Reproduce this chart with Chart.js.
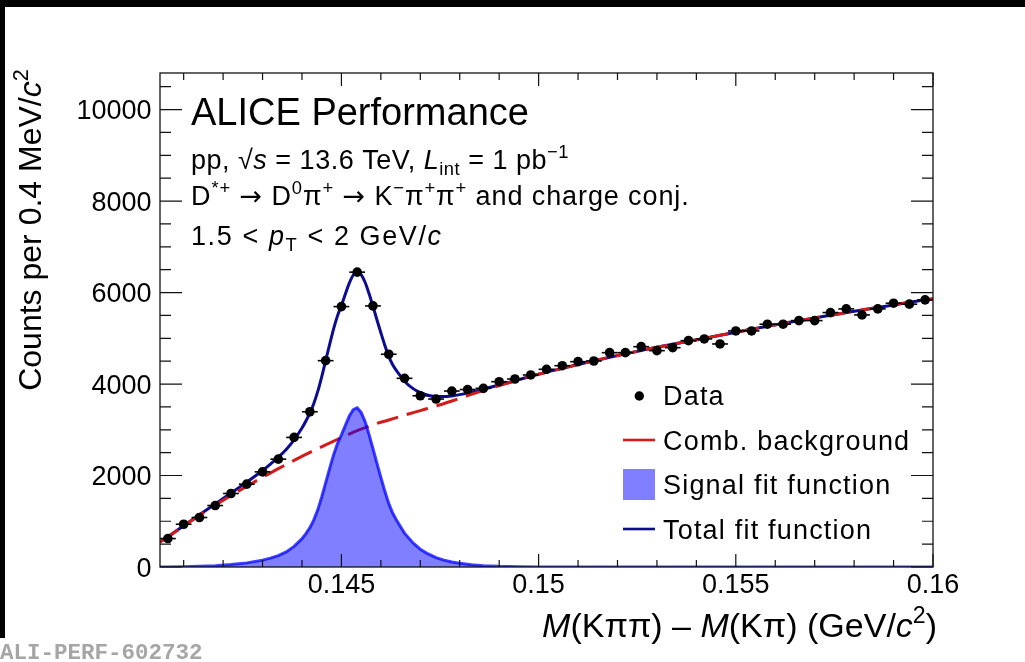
<!DOCTYPE html>
<html>
<head>
<meta charset="utf-8">
<script src="https://cdn.jsdelivr.net/npm/chart.js@4/dist/chart.umd.min.js"></script>
<style>
  html, body { margin: 0; padding: 0; background: #fff; }
  canvas { display: block; }
</style>
</head>
<body>
<canvas id="c" width="1025" height="662" style="width:1025px;height:662px"></canvas>
<script>
// ---- measured spectrum: bin centres of 0.4 MeV/c^2 bins and counts ----
const binCenters = [0.1406, 0.1410, 0.1414, 0.1418, 0.1422, 0.1426, 0.1430, 0.1434, 0.1438, 0.1442,
                    0.1446, 0.1450, 0.1454, 0.1458, 0.1462, 0.1466, 0.1470, 0.1474, 0.1478, 0.1482,
                    0.1486, 0.1490, 0.1494, 0.1498, 0.1502, 0.1506, 0.1510, 0.1514, 0.1518, 0.1522,
                    0.1526, 0.1530, 0.1534, 0.1538, 0.1542, 0.1546, 0.1550, 0.1554, 0.1558, 0.1562,
                    0.1566, 0.1570, 0.1574, 0.1578, 0.1582, 0.1586, 0.1590, 0.1594, 0.1598];
const counts = [622, 935, 1082, 1344, 1607, 1811, 2080, 2358, 2833, 3394,
                4511, 5693, 6446, 5708, 4651, 4125, 3744, 3672, 3847, 3880,
                3906, 4051, 4110, 4198, 4322, 4401, 4489, 4504, 4686, 4686,
                4817, 4730, 4795, 4949, 4986, 4876, 5161, 5161, 5308, 5308,
                5387, 5387, 5562, 5643, 5511, 5643, 5767, 5746, 5840];
const binHalfWidth = 0.0002;

// ---- combinatorial background fit ----
const bkgMass = [0.1404, 0.1406, 0.1410, 0.1414, 0.1418, 0.1422, 0.1426, 0.1430, 0.1434, 0.1438,
                 0.1442, 0.1446, 0.1450, 0.1454, 0.1458, 0.1462, 0.1466, 0.1470, 0.1474, 0.1478,
                 0.1482, 0.1486, 0.1490, 0.1494, 0.1498, 0.1502, 0.1506, 0.1510, 0.1514, 0.1518,
                 0.1522, 0.1526, 0.1530, 0.1534, 0.1538, 0.1542, 0.1546, 0.1550, 0.1554, 0.1558,
                 0.1562, 0.1566, 0.1570, 0.1574, 0.1578, 0.1582, 0.1586, 0.1590, 0.1594, 0.1598, 0.1600];
const bkgCounts = [545, 659, 898, 1128, 1349, 1561, 1765, 1960, 2150, 2330,
                   2505, 2670, 2830, 2982, 3110, 3215, 3320, 3420, 3520, 3630,
                   3745, 3860, 3965, 4065, 4170, 4258, 4343, 4426, 4507, 4585,
                   4660, 4733, 4804, 4870, 4935, 4998, 5065, 5132, 5198, 5262,
                   5325, 5385, 5445, 5505, 5562, 5620, 5675, 5730, 5785, 5840, 5865];

// ---- signal fit ----
const sigMass = [0.1404, 0.1406, 0.1410, 0.1414, 0.1418, 0.1422, 0.1426, 0.1430, 0.1432, 0.1434,
                 0.1436, 0.1438, 0.1440, 0.1441, 0.1442, 0.1443, 0.1444, 0.1445, 0.1446, 0.1447,
                 0.1448, 0.1449, 0.1450, 0.1451, 0.1452, 0.1453, 0.1454, 0.1455, 0.1456, 0.1457,
                 0.1458, 0.1459, 0.1460, 0.1461, 0.1462, 0.1463, 0.1464, 0.1465, 0.1466, 0.1468,
                 0.1470, 0.1472, 0.1474, 0.1476, 0.1478, 0.1480, 0.1483, 0.1486, 0.1490, 0.1495,
                 0.1500, 0.1505, 0.1600];
const sigCounts = [0, 2, 5, 15, 30, 55, 90, 150, 195, 250,
                   330, 450, 620, 730, 860, 1030, 1250, 1530, 1840, 2150,
                   2450, 2700, 2890, 3100, 3300, 3440, 3480, 3380, 3180, 2900,
                   2590, 2270, 1960, 1660, 1390, 1180, 1020, 880, 740, 540,
                   390, 285, 205, 150, 110, 80, 50, 30, 15, 6,
                   2, 0, 0];

// ---- total fit ----
const totMass = [0.1404, 0.1406, 0.1410, 0.1414, 0.1418, 0.1422, 0.1426, 0.1430, 0.1432, 0.1434,
                 0.1436, 0.1438, 0.1440, 0.1441, 0.1442, 0.1443, 0.1444, 0.1445, 0.1446, 0.1447,
                 0.1448, 0.1449, 0.1450, 0.1451, 0.1452, 0.1453, 0.1454, 0.1455, 0.1456, 0.1457,
                 0.1458, 0.1459, 0.1460, 0.1461, 0.1462, 0.1463, 0.1464, 0.1465, 0.1466, 0.1468,
                 0.1470, 0.1472, 0.1474, 0.1476, 0.1478, 0.1480, 0.1483, 0.1486, 0.1490, 0.1495,
                 0.1500, 0.1506, 0.1510, 0.1514, 0.1518, 0.1522, 0.1526, 0.1530, 0.1534, 0.1538,
                 0.1542, 0.1546, 0.1550, 0.1554, 0.1558, 0.1562, 0.1566, 0.1570, 0.1574, 0.1578,
                 0.1582, 0.1586, 0.1590, 0.1594, 0.1598, 0.1600];
const totCounts = [545, 661, 903, 1143, 1379, 1616, 1855, 2110, 2250, 2400,
                   2570, 2780, 3038, 3191, 3365, 3576, 3838, 4159, 4510, 4860,
                   5200, 5490, 5720, 5968, 6206, 6384, 6462, 6394, 6226, 5978,
                   5700, 5406, 5122, 4849, 4605, 4421, 4287, 4174, 4060, 3910,
                   3810, 3755, 3725, 3725, 3740, 3768, 3824, 3890, 3980, 4097,
                   4216, 4343, 4426, 4507, 4585, 4660, 4733, 4804, 4870, 4935,
                   4998, 5065, 5132, 5198, 5262, 5325, 5385, 5445, 5505, 5562,
                   5620, 5675, 5730, 5785, 5840, 5865];

// ---- axis ticks ----
const xRange = [0.1404, 0.16];
const yRange = [0, 10800];
const xMajorTicks = [0.145, 0.15, 0.155, 0.16];
const xTickLabels = ['0.145', '0.15', '0.155', '0.16'];
const xMinorTicks = [0.141, 0.142, 0.143, 0.144, 0.146, 0.147, 0.148, 0.149,
                     0.151, 0.152, 0.153, 0.154, 0.156, 0.157, 0.158, 0.159];
const yMajorTicks = [0, 2000, 4000, 6000, 8000, 10000];
const yTickLabels = ['0', '2000', '4000', '6000', '8000', '10000'];
const yMinorTicks = [500, 1000, 1500, 2500, 3000, 3500, 4500, 5000, 5500,
                     6500, 7000, 7500, 8500, 9000, 9500, 10500];

const legendLabels = ['Data', 'Comb. background', 'Signal fit function', 'Total fit function'];

const COL_TOTAL = '#0c0c8e';
const COL_BKG = '#d51a1a';
const COL_SIG_LINE = 'rgba(0,0,255,0.75)';
const COL_SIG_FILL = 'rgba(0,0,255,0.5)';

const FONT = '"Liberation Sans", Arial, Helvetica, sans-serif';
const ARROW_FONT = '"DejaVu Sans", sans-serif';
function fnt(size, italic, family) { return (italic ? 'italic ' : '') + size + 'px ' + (family || FONT); }

// rich text: parts = [{t, i (italic), v (1 sup, -1 sub), f (font family)}]
function segsOf(parts, size) {
  return parts.map(p => {
    const s = p.v ? size * 0.68 : size;
    return { t: p.t, font: fnt(s, p.i, p.f), dy: p.v === 1 ? -0.42 * size : (p.v === -1 ? 0.22 * size : 0) };
  });
}
function richWidth(ctx, segs) {
  let w = 0;
  segs.forEach(s => { ctx.font = s.font; w += ctx.measureText(s.t).width; });
  return w;
}
function drawRich(ctx, x, y, parts, size, align, spacing) {
  ctx.save();
  ctx.letterSpacing = (spacing || 0) + 'px';
  const segs = segsOf(parts, size);
  let cx = x;
  const w = richWidth(ctx, segs);
  if (align === 'right') cx -= w;
  else if (align === 'center') cx -= w / 2;
  ctx.textAlign = 'left';
  ctx.textBaseline = 'alphabetic';
  segs.forEach(s => { ctx.font = s.font; ctx.fillText(s.t, cx, y + s.dy); cx += ctx.measureText(s.t).width; });
  ctx.restore();
}

const titleX = [{t: 'M', i: true}, {t: '(K\u03C0\u03C0) \u2013 '}, {t: 'M', i: true}, {t: '(K\u03C0) (GeV/'},
                {t: 'c', i: true}, {t: '2', v: 1}, {t: ')'}];
const titleY = [{t: 'Counts per 0.4 MeV/'}, {t: 'c', i: true}, {t: '2', v: 1}];
const line1 = [{t: 'ALICE Performance'}];
const line2 = [{t: 'pp, \u221A'}, {t: 's', i: true}, {t: ' = 13.6 TeV, '}, {t: 'L', i: true}, {t: 'int', v: -1},
               {t: ' = 1 pb'}, {t: '\u22121', v: 1}];
const line3 = [{t: 'D'}, {t: '*+', v: 1}, {t: ' '}, {t: '\u2192', f: ARROW_FONT}, {t: ' D'}, {t: '0', v: 1},
               {t: '\u03C0'}, {t: '+', v: 1}, {t: ' '}, {t: '\u2192', f: ARROW_FONT}, {t: ' K'}, {t: '\u2212', v: 1},
               {t: '\u03C0'}, {t: '+', v: 1}, {t: '\u03C0'}, {t: '+', v: 1}, {t: ' and charge conj.'}];
const line4 = [{t: '1.5 < '}, {t: 'p', i: true}, {t: 'T', v: -1}, {t: ' < 2 GeV/'}, {t: 'c', i: true}];

const rootStyle = {
  id: 'rootStyle',
  beforeDraw(chart) {
    const ctx = chart.ctx;
    ctx.save();
    ctx.fillStyle = '#fff';
    ctx.fillRect(0, 0, chart.width, chart.height);
    ctx.restore();
  },
  beforeDatasetDraw(chart, args) {
    if (args.index !== 0) return;
    // horizontal error bars (bin width) beneath the markers
    const ctx = chart.ctx, xs = chart.scales.x, ys = chart.scales.y;
    ctx.save();
    ctx.strokeStyle = '#000';
    ctx.lineWidth = 1.6;
    binCenters.forEach((m, i) => {
      const py = ys.getPixelForValue(counts[i]);
      ctx.beginPath();
      ctx.moveTo(xs.getPixelForValue(m - binHalfWidth), py);
      ctx.lineTo(xs.getPixelForValue(m + binHalfWidth), py);
      ctx.stroke();
    });
    ctx.restore();
  },
  afterDraw(chart) {
    const ctx = chart.ctx, xs = chart.scales.x, ys = chart.scales.y;
    const a = chart.chartArea;
    ctx.save();
    // frame
    ctx.strokeStyle = '#111';
    ctx.lineWidth = 1.3;
    ctx.strokeRect(a.left, a.top, a.right - a.left, a.bottom - a.top);
    // ticks on all four sides
    ctx.lineWidth = 1.2;
    ctx.beginPath();
    const xt = (v, len) => {
      const px = xs.getPixelForValue(v);
      ctx.moveTo(px, a.bottom); ctx.lineTo(px, a.bottom - len);
      ctx.moveTo(px, a.top); ctx.lineTo(px, a.top + len);
    };
    const yt = (v, len) => {
      const py = ys.getPixelForValue(v);
      ctx.moveTo(a.left, py); ctx.lineTo(a.left + len, py);
      ctx.moveTo(a.right, py); ctx.lineTo(a.right - len, py);
    };
    xMajorTicks.forEach(v => xt(v, 13));
    xMinorTicks.forEach(v => xt(v, 7));
    yMajorTicks.forEach(v => yt(v, 22));
    yMinorTicks.forEach(v => yt(v, 11));
    ctx.stroke();

    // tick labels
    ctx.fillStyle = '#000';
    ctx.font = fnt(27);
    ctx.textBaseline = 'alphabetic';
    ctx.textAlign = 'center';
    xMajorTicks.forEach((v, i) => ctx.fillText(xTickLabels[i], xs.getPixelForValue(v), 592.5));
    ctx.textAlign = 'right';
    yMajorTicks.forEach((v, i) => ctx.fillText(yTickLabels[i], 151.5, ys.getPixelForValue(v) + 9.6));

    // axis titles
    drawRich(ctx, 937, 637, titleX, 34, 'right');
    ctx.save();
    ctx.translate(41, 230);
    ctx.rotate(-Math.PI / 2);
    drawRich(ctx, 0, 0, titleY, 32, 'center');
    ctx.restore();

    // header text
    drawRich(ctx, 191, 125, line1, 38, 'left');
    drawRich(ctx, 191, 169, line2, 27, 'left', 0.5);
    drawRich(ctx, 191, 205, line3, 27, 'left', 0.9);
    drawRich(ctx, 191, 245, line4, 27, 'left', 1.6);

    // legend
    const lx = 663;
    ctx.fillStyle = '#000';
    ctx.beginPath(); ctx.arc(639.3, 396, 4.7, 0, Math.PI * 2); ctx.fill();
    ctx.strokeStyle = COL_BKG; ctx.lineWidth = 2.6;
    ctx.beginPath(); ctx.moveTo(623, 440); ctx.lineTo(655, 440); ctx.stroke();
    ctx.fillStyle = COL_SIG_FILL;
    ctx.fillRect(623, 469, 32, 31);
    ctx.strokeStyle = COL_TOTAL; ctx.lineWidth = 2.6;
    ctx.beginPath(); ctx.moveTo(623, 529); ctx.lineTo(655, 529); ctx.stroke();
    ctx.fillStyle = '#000';
    drawRich(ctx, lx, 404.5, [{t: legendLabels[0]}], 27, 'left', 1.2);
    drawRich(ctx, lx, 449.5, [{t: legendLabels[1]}], 27, 'left', 1.2);
    drawRich(ctx, lx, 494, [{t: legendLabels[2]}], 27, 'left', 1.2);
    drawRich(ctx, lx, 538.5, [{t: legendLabels[3]}], 27, 'left', 1.2);

    // figure identifier
    ctx.fillStyle = '#a6a6a6';
    ctx.textAlign = 'left';
    ctx.font = 'bold 22.5px "Liberation Mono", "DejaVu Sans Mono", monospace';
    ctx.fillText('ALI-PERF-602732', 0, 659);

    // outer border
    ctx.fillStyle = '#000';
    ctx.fillRect(0, 0, chart.width, 7);
    ctx.fillRect(0, 0, 5, 638);
    ctx.restore();
  }
};

const pts = (xsArr, ysArr) => xsArr.map((x, i) => ({ x: x, y: ysArr[i] }));

new Chart(document.getElementById('c'), {
  type: 'scatter',
  data: {
    datasets: [
      { label: legendLabels[0], data: pts(binCenters, counts), pointRadius: 4.8,
        pointBackgroundColor: '#000', pointBorderWidth: 0, order: 0 },
      { label: legendLabels[2], data: pts(sigMass, sigCounts), showLine: true, pointRadius: 0,
        borderColor: COL_SIG_LINE, borderWidth: 3, backgroundColor: COL_SIG_FILL,
        fill: 'origin', tension: 0, order: 1 },
      { label: legendLabels[1], data: pts(bkgMass, bkgCounts), showLine: true, pointRadius: 0,
        borderColor: COL_BKG, borderWidth: 3, borderDash: [22, 9],
        cubicInterpolationMode: 'monotone', order: 2 },
      { label: legendLabels[3], data: pts(totMass, totCounts), showLine: true, pointRadius: 0,
        borderColor: COL_TOTAL, borderWidth: 3,
        cubicInterpolationMode: 'monotone', order: 3 }
    ]
  },
  options: {
    responsive: false,
    animation: false,
    devicePixelRatio: 1,
    events: [],
    layout: { padding: { left: 0, top: 73, right: 92, bottom: 0 } },
    scales: {
      x: {
        type: 'linear', min: xRange[0], max: xRange[1],
        afterBuildTicks: s => { s.ticks = xMajorTicks.map(v => ({ value: v })); },
        afterFit: s => { s.height = 95; },
        ticks: { display: false }, grid: { display: false }, border: { display: false }
      },
      y: {
        type: 'linear', min: yRange[0], max: yRange[1],
        afterBuildTicks: s => { s.ticks = yMajorTicks.map(v => ({ value: v })); },
        afterFit: s => { s.width = 160; },
        ticks: { display: false }, grid: { display: false }, border: { display: false }
      }
    },
    plugins: { legend: { display: false }, tooltip: { enabled: false } }
  },
  plugins: [rootStyle]
});
</script>
</body>
</html>
